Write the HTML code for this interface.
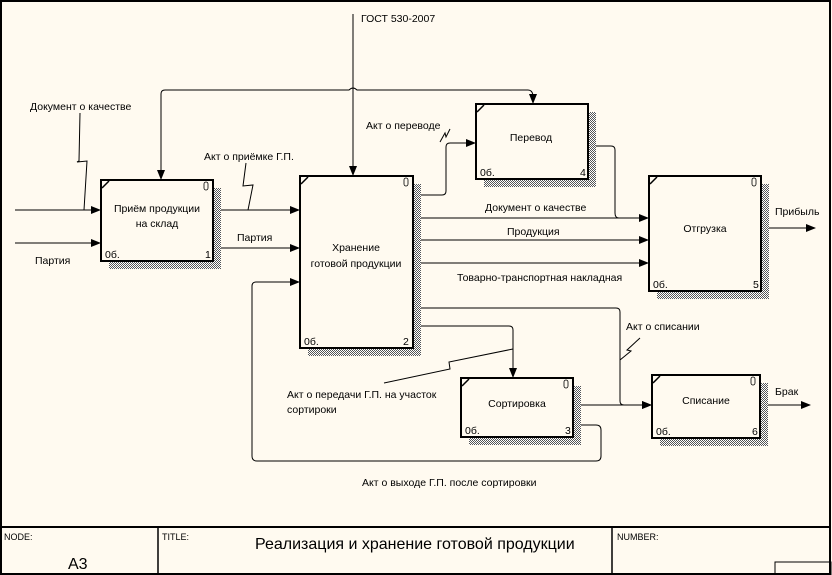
<!DOCTYPE html>
<html><head><meta charset="utf-8"><style>
html,body{margin:0;padding:0;background:#fffaf0;}
svg{display:block;font-family:"Liberation Sans",sans-serif;}
text{font-size:10.5px;fill:#000;}
</style></head><body>
<svg width="832" height="575" viewBox="0 0 832 575" xmlns="http://www.w3.org/2000/svg">
<defs>
<pattern id="h" width="2" height="2" patternUnits="userSpaceOnUse"><rect width="2" height="2" fill="#fff"/><rect width="1" height="1" fill="#555"/><rect x="1" y="1" width="1" height="1" fill="#555"/></pattern>
<marker id="a" markerWidth="10" markerHeight="8" refX="9" refY="4" orient="auto" markerUnits="userSpaceOnUse"><path d="M0,0 L10,4 L0,8 Z" fill="#000"/></marker>
</defs>
<rect x="0" y="0" width="832" height="575" fill="#fffaf0"/>
<rect x="1" y="1" width="829" height="573" fill="none" stroke="#000" stroke-width="2"/>
<!-- footer -->
<line x1="1" y1="527" x2="830" y2="527" stroke="#000" stroke-width="2"/>
<line x1="158" y1="527" x2="158" y2="574" stroke="#000" stroke-width="1.5"/>
<line x1="612" y1="527" x2="612" y2="574" stroke="#000" stroke-width="1.5"/>
<rect x="775" y="562" width="56" height="13" fill="none" stroke="#000" stroke-width="1"/>
<text x="4" y="540" style="font-size:9px">NODE:</text>
<text x="68" y="569" style="font-size:16px">A3</text>
<text x="162" y="540" style="font-size:9px">TITLE:</text>
<text x="255" y="549" style="font-size:16px">Реализация и хранение  готовой продукции</text>
<text x="617" y="540" style="font-size:9px">NUMBER:</text>

<g fill="none" stroke="#000" stroke-width="1">
<!-- inputs to box1 -->
<line x1="15" y1="210" x2="100" y2="210" marker-end="url(#a)"/>
<line x1="15" y1="243" x2="100" y2="243" marker-end="url(#a)"/>
<polyline points="80,113 79,161 77,162 87,161 84,210"/>
<!-- box1 -> box2 -->
<line x1="214" y1="210" x2="299" y2="210" marker-end="url(#a)"/>
<polyline points="246,163 243,186 253,185 248,210"/>
<line x1="214" y1="248" x2="299" y2="248" marker-end="url(#a)"/>
<!-- control -->
<line x1="353" y1="14" x2="353" y2="175" marker-end="url(#a)"/>
<path d="M161,179 L161,94 Q161,90 165,90 L349,90 Q353,86 357,90 L528,90 Q532,90 533,95 L533,103" marker-end="url(#a)"/>
<line x1="161" y1="140" x2="161" y2="179" marker-end="url(#a)"/>
<!-- box2 -> box3 -->
<path d="M414,195 L442,195 Q446,195 446,191 L446,147 Q446,143 450,143 L475,143" marker-end="url(#a)"/>
<polyline points="440,142 445,133 446,137 450,129"/>
<!-- box3 -> box5 -->
<path d="M589,146 L611,146 Q615,146 615,150 L615,213 Q615,218 619,218 L648,218"/>
<!-- box2 -> box5 -->
<line x1="414" y1="218" x2="648" y2="218" marker-end="url(#a)"/>
<line x1="414" y1="240" x2="648" y2="240" marker-end="url(#a)"/>
<line x1="414" y1="263" x2="648" y2="263" marker-end="url(#a)"/>
<!-- box5 out -->
<line x1="762" y1="228" x2="815" y2="228" marker-end="url(#a)"/>
<!-- box2 -> box6 -->
<path d="M414,308 L616,308 Q620,308 620,312 L620,401 Q620,405 624,405 L651,405" marker-end="url(#a)"/>
<polyline points="620,360 631,351 627,350 640,338"/>
<!-- box2 -> box4 -->
<path d="M414,326 L509,326 Q513,326 513,330 L513,377" marker-end="url(#a)"/>
<polyline points="513,349 449,362 450,369 384,383"/>
<!-- box4 -> box6 -->
<line x1="574" y1="405" x2="651" y2="405" marker-end="url(#a)"/>
<line x1="761" y1="405" x2="810" y2="405" marker-end="url(#a)"/>
<!-- feedback -->
<path d="M574,425 L596,425 Q601,425 601,430 L601,456 Q601,461 596,461 L257,461 Q252,461 252,456 L252,286 Q252,282 256,282 L299,282" marker-end="url(#a)"/>
</g>

<!-- boxes -->
<g>
<rect x="109" y="188" width="112" height="81" fill="url(#h)"/>
<rect x="101" y="180" width="112" height="81" fill="#fffaf0" stroke="#000" stroke-width="2"/>
<rect x="308" y="184" width="113" height="172" fill="url(#h)"/>
<rect x="300" y="176" width="113" height="172" fill="#fffaf0" stroke="#000" stroke-width="2"/>
<rect x="484" y="112" width="112" height="75" fill="url(#h)"/>
<rect x="476" y="104" width="112" height="75" fill="#fffaf0" stroke="#000" stroke-width="2"/>
<rect x="657" y="184" width="112" height="115" fill="url(#h)"/>
<rect x="649" y="176" width="112" height="115" fill="#fffaf0" stroke="#000" stroke-width="2"/>
<rect x="469" y="386" width="112" height="59" fill="url(#h)"/>
<rect x="461" y="378" width="112" height="59" fill="#fffaf0" stroke="#000" stroke-width="2"/>
<rect x="660" y="383" width="108" height="63" fill="url(#h)"/>
<rect x="652" y="375" width="108" height="63" fill="#fffaf0" stroke="#000" stroke-width="2"/>
</g>
<g stroke="#000" stroke-width="1.5">
<line x1="102" y1="188" x2="109" y2="181"/>
<line x1="301" y1="184" x2="308" y2="177"/>
<line x1="477" y1="112" x2="484" y2="105"/>
<line x1="650" y1="184" x2="657" y2="177"/>
<line x1="462" y1="386" x2="469" y2="379"/>
<line x1="653" y1="383" x2="660" y2="376"/>
</g>
<g fill="none" stroke="#000" stroke-width="0.8">
<rect x="204" y="182" width="4" height="8" rx="2"/>
<rect x="404" y="178" width="4" height="8" rx="2"/>
<rect x="752" y="178" width="4" height="8" rx="2"/>
<rect x="564" y="380" width="4" height="8" rx="2"/>
<rect x="751" y="377" width="4" height="8" rx="2"/>
</g>
<g text-anchor="middle">
<text x="157" y="212">Приём продукции</text>
<text x="157" y="227">на склад</text>
<text x="356" y="251">Хранение</text>
<text x="356" y="267">готовой продукции</text>
<text x="531" y="141">Перевод</text>
<text x="705" y="232">Отгрузка</text>
<text x="517" y="407">Сортировка</text>
<text x="706" y="404">Списание</text>
</g>
<g style="font-size:10px">
<text x="105" y="258">0б.</text><text x="205" y="258">1</text>
<text x="304" y="345">0б.</text><text x="403" y="345">2</text>
<text x="480" y="176">0б.</text><text x="580" y="176">4</text>
<text x="653" y="288">0б.</text><text x="753" y="288">5</text>
<text x="465" y="434">0б.</text><text x="565" y="434">3</text>
<text x="656" y="435">0б.</text><text x="752" y="435">6</text>
</g>
<text x="361" y="22">ГОСТ 530-2007</text>
<text x="30" y="110">Документ о качестве</text>
<text x="35" y="264">Партия</text>
<text x="204" y="160">Акт о приёмке Г.П.</text>
<text x="237" y="241">Партия</text>
<text x="366" y="129">Акт о переводе</text>
<text x="485" y="211">Документ о качестве</text>
<text x="507" y="235">Продукция</text>
<text x="457" y="281">Товарно-транспортная накладная</text>
<text x="775" y="215">Прибыль</text>
<text x="626" y="330">Акт о списании</text>
<text x="775" y="395">Брак</text>
<text x="287" y="398">Акт о передачи Г.П. на участок</text>
<text x="287" y="413">сортироки</text>
<text x="362" y="486">Акт о выходе Г.П. после сортировки</text>
</svg>
</body></html>
